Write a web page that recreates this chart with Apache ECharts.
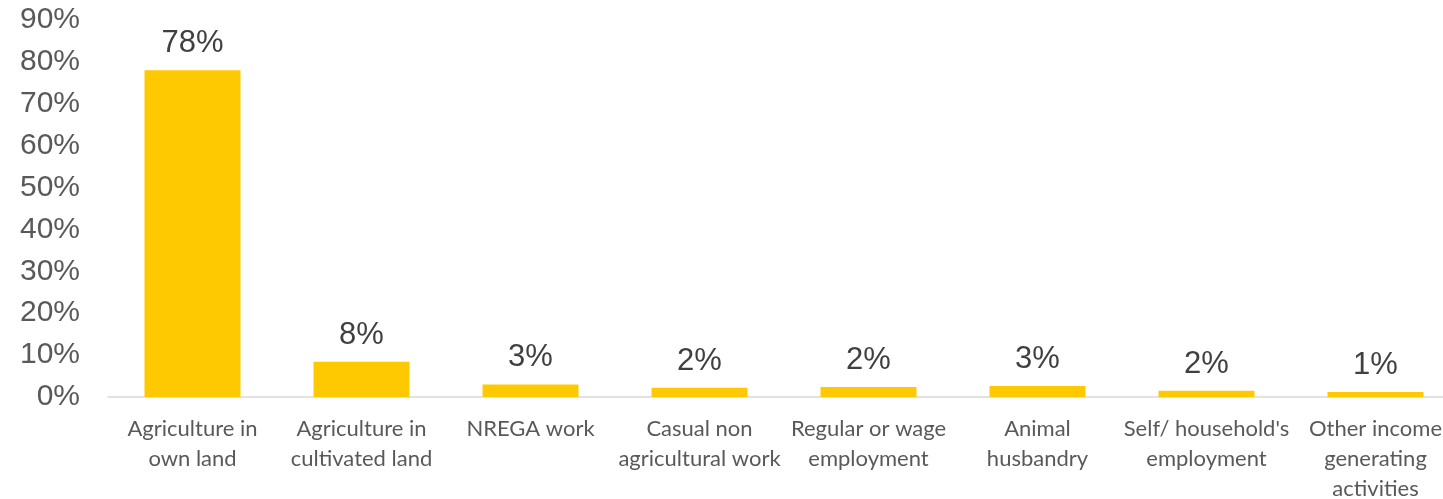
<!DOCTYPE html>
<html style="height: 100%">
<head>
	<meta charset="UTF-8">
	<title>Main occupation</title>
	<script src="https://cdn.jsdelivr.net/npm/echarts@6/dist/echarts.min.js"></script>
</head>
<body style="height: 100%; margin: 0; background: #fff">
	<div id="container" style="width: 1443px; height: 499px;"></div>
	<script type="text/javascript">
		// categories (line breaks as in the original labels)
		var categories = [
			'Agriculture in\nown land',
			'Agriculture in\ncultivated land',
			'NREGA work',
			'Casual non\nagricultural work',
			'Regular or wage\nemployment',
			'Animal\nhusbandry',
			'Self/ household\'s\nemployment',
			'Other income\ngenerating\nactivities'
		];
		// share of households, percent
		var shares = [78, 8.4, 3.0, 2.2, 2.4, 2.6, 1.5, 1.2];
		var yTicks = [0, 90, 10]; // min, max, interval

		var myChart = echarts.init(document.getElementById('container'));
		var option = {
			animation: false,
			grid: {
				left: 108,
				top: 20,
				width: 1352,
				bottom: 102,
				outerBoundsMode: 'none'
			},
			xAxis: {
				type: 'category',
				data: categories,
				axisTick: { show: false },
				axisLine: { lineStyle: { color: '#d9d9d9', width: 1.5 } },
				axisLabel: {
					interval: 0,
					margin: 17,
					color: '#595959',
					fontFamily: 'Lato',
					fontSize: 22,
					lineHeight: 30
				}
			},
			yAxis: {
				type: 'value',
				min: yTicks[0],
				max: yTicks[1],
				interval: yTicks[2],
				splitLine: { show: false },
				axisLine: { show: false },
				axisTick: { show: false },
				axisLabel: {
					margin: 28,
					color: '#595959',
					fontFamily: 'Liberation Sans',
					fontSize: 30,
					formatter: '{value}%'
				}
			},
			series: [{
				type: 'bar',
				data: shares,
				barWidth: 96,
				itemStyle: { color: '#ffc901' },
				label: {
					show: true,
					position: 'top',
					distance: 11,
					color: '#404040',
					fontFamily: 'Liberation Sans',
					fontSize: 31,
					formatter: function (p) { return Math.round(p.value) + '%'; }
				}
			}]
		};
		myChart.setOption(option);
	</script>
</body>
</html>
